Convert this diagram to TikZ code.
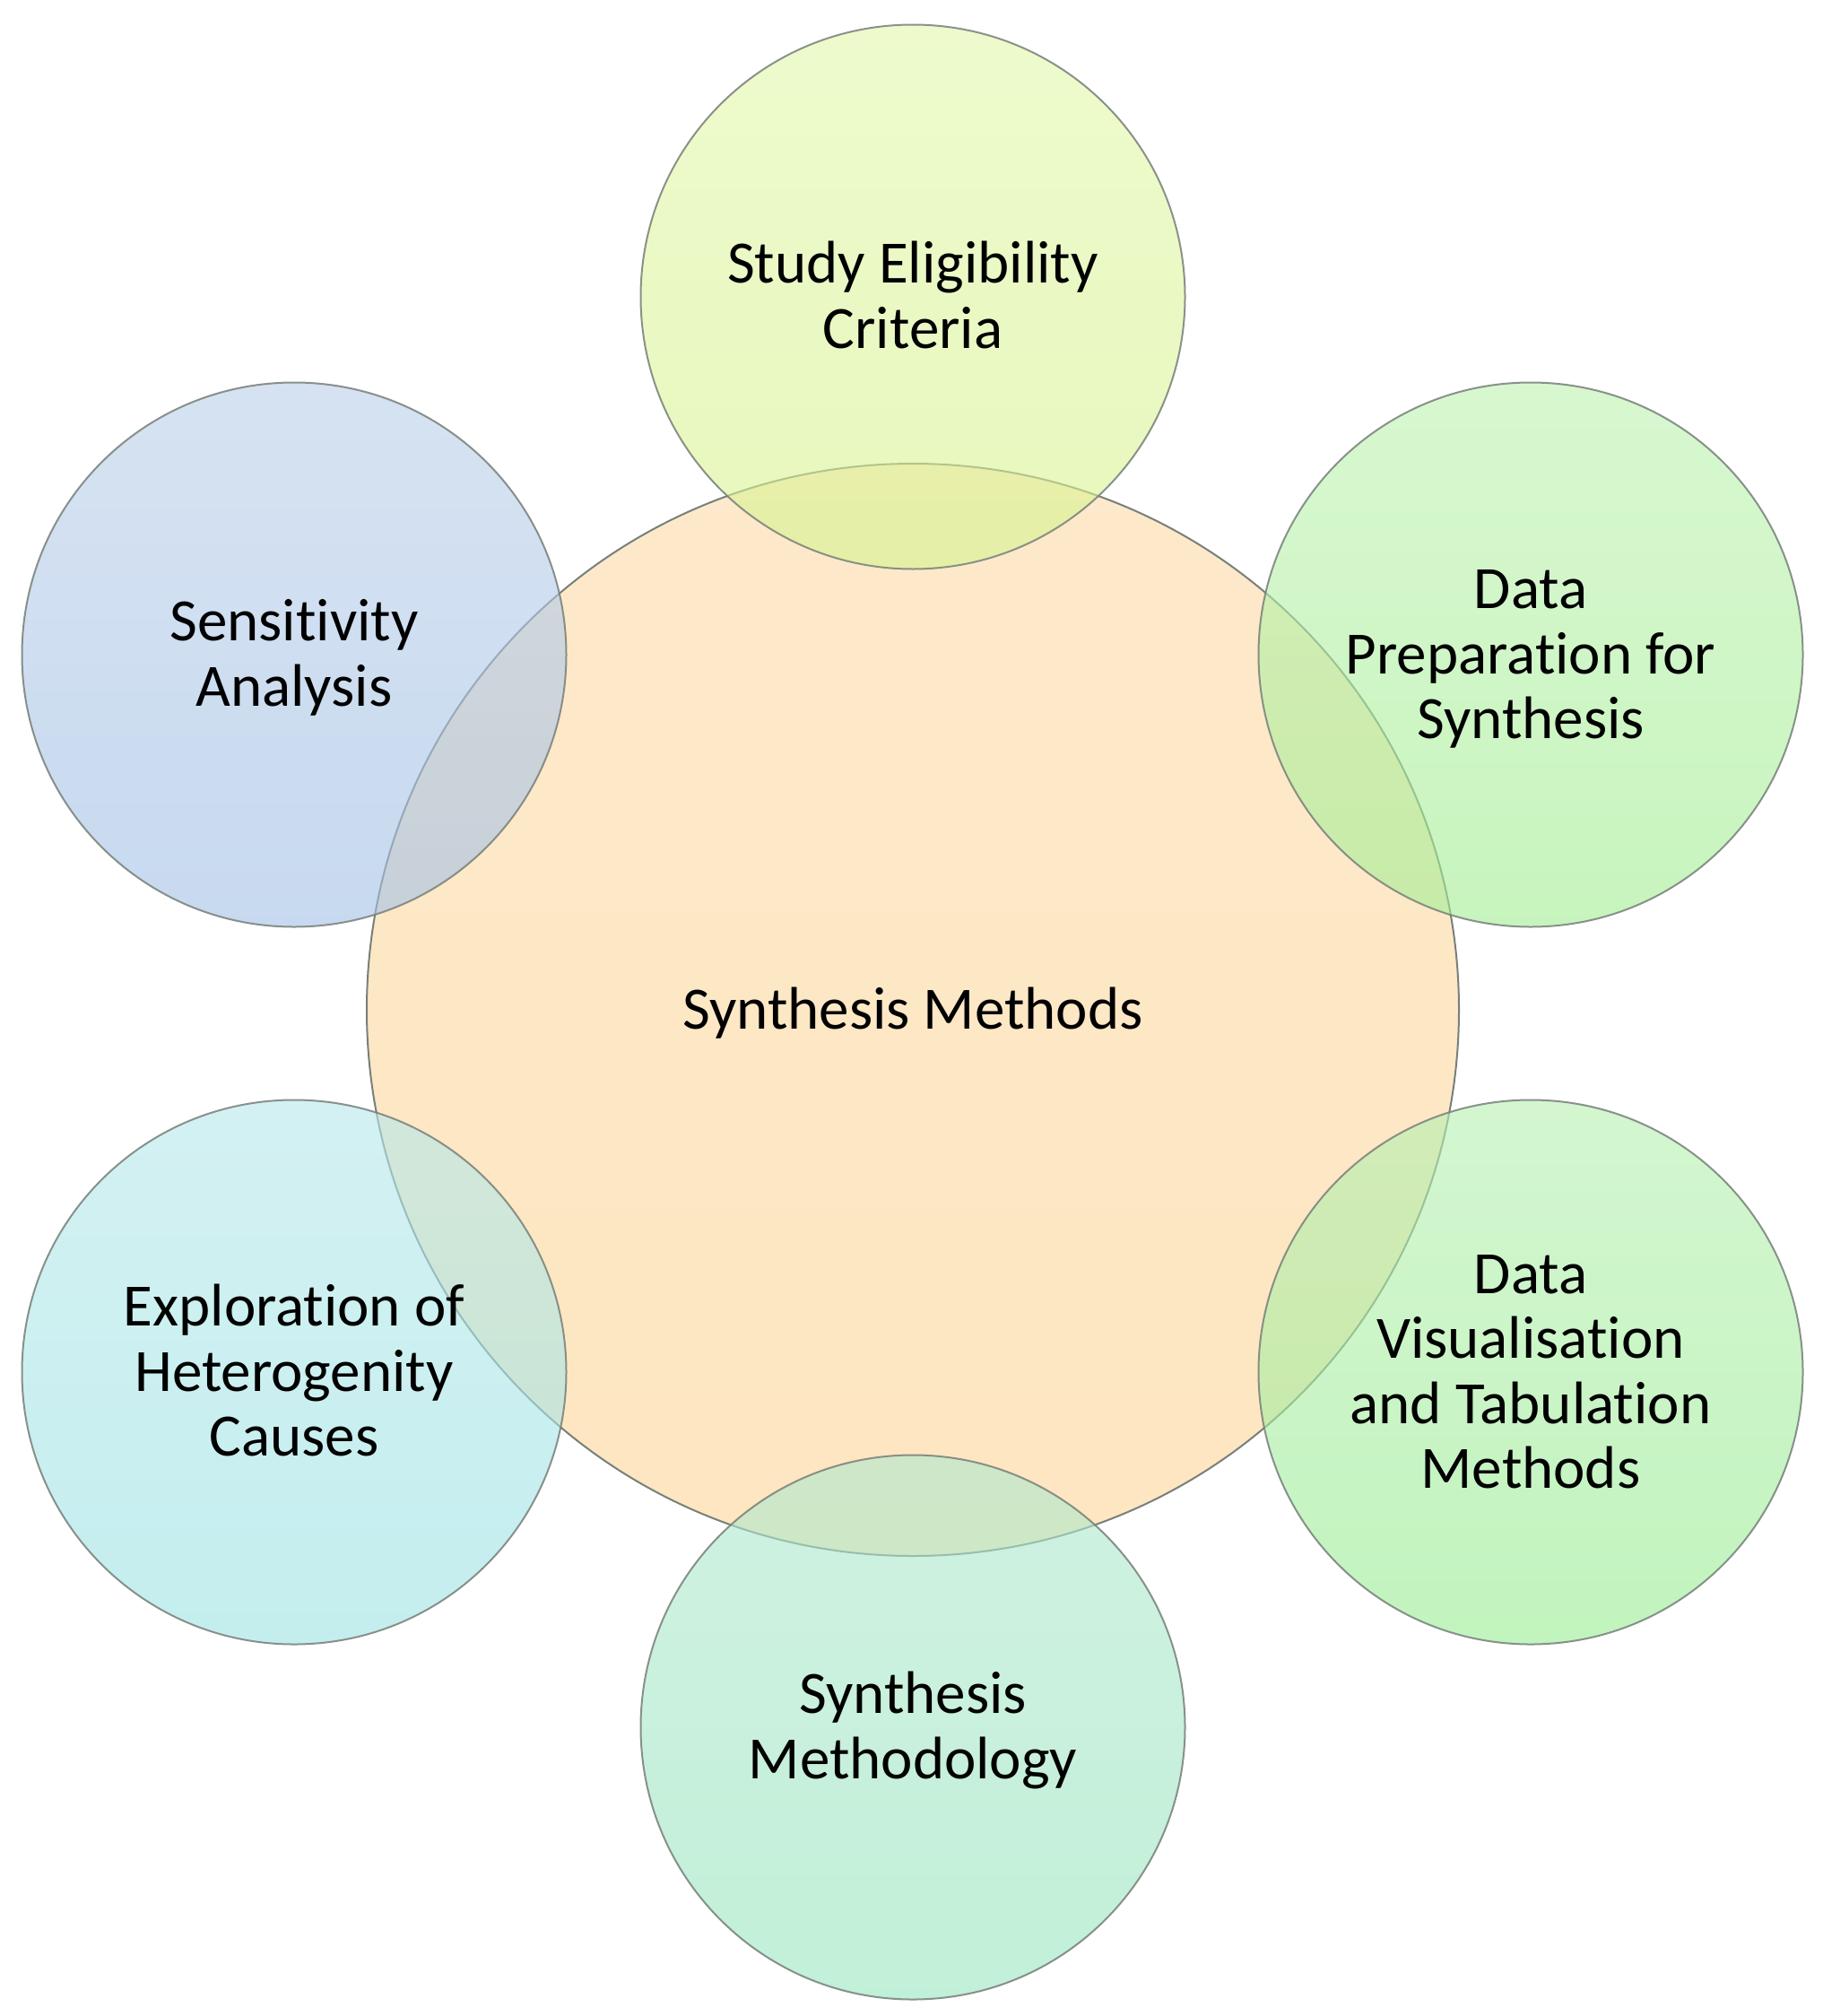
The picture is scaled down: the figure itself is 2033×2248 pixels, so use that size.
\documentclass[tikz,border=0pt]{standalone}
\usepackage{fontspec}
\setmainfont[Ligatures=NoCommon]{Carlito}
\definecolor{cenT}{RGB}{253,233,203}
\definecolor{cenB}{RGB}{253,230,192}
\definecolor{seT}{RGB}{227,248,172}
\definecolor{seB}{RGB}{215,243,143}
\definecolor{saT}{RGB}{187,208,233}
\definecolor{saB}{RGB}{163,193,230}
\definecolor{dpT}{RGB}{190,243,177}
\definecolor{dpB}{RGB}{163,238,147}
\definecolor{dvT}{RGB}{183,240,177}
\definecolor{dvB}{RGB}{153,237,147}
\definecolor{smT}{RGB}{177,233,207}
\definecolor{smB}{RGB}{153,230,190}
\definecolor{exT}{RGB}{183,232,235}
\definecolor{exB}{RGB}{157,227,228}
\definecolor{edge}{RGB}{120,128,122}
\begin{document}
\begin{tikzpicture}[x=1pt,y=-1pt,
  lbl/.style={font=\fontsize{67}{72.5}\selectfont, align=center,
    text depth=0pt, inner sep=0pt, text=black},
  one/.style={text height=42pt},
  two/.style={text height=114.5pt},
  three/.style={text height=187pt},
  four/.style={text height=259.5pt},
  bigcirc/.style={lbl, circle, minimum size=1218pt, draw=edge,
    line width=2pt, top color=cenT, bottom color=cenB},
  satcirc/.style={lbl, circle, minimum size=607pt, draw=edge,
    line width=2pt, fill opacity=0.6, draw opacity=0.85, text opacity=1}]
\fill[white] (0,0) rectangle (2033,2248);
\node[bigcirc, one] (center) at (1018,1126) {Synthesis Methods};
\node[satcirc, two, top color=seT, bottom color=seB] (elig) at (1018,331) {Study Eligibility\\Criteria};
\node[satcirc, three, top color=dpT, bottom color=dpB] (prep) at (1707,730) {Data\\Preparation for\\Synthesis};
\node[satcirc, four, top color=dvT, bottom color=dvB] (vis) at (1707,1530) {Data\\Visualisation\\and Tabulation\\Methods};
\node[satcirc, two, top color=smT, bottom color=smB] (meth) at (1018,1926) {Synthesis\\Methodology};
\node[satcirc, three, top color=exT, bottom color=exB] (expl) at (328,1530) {Exploration of\\Heterogenity\\Causes};
\node[satcirc, two, top color=saT, bottom color=saB] (sens) at (328,730) {Sensitivity\\Analysis};
\end{tikzpicture}
\end{document}
